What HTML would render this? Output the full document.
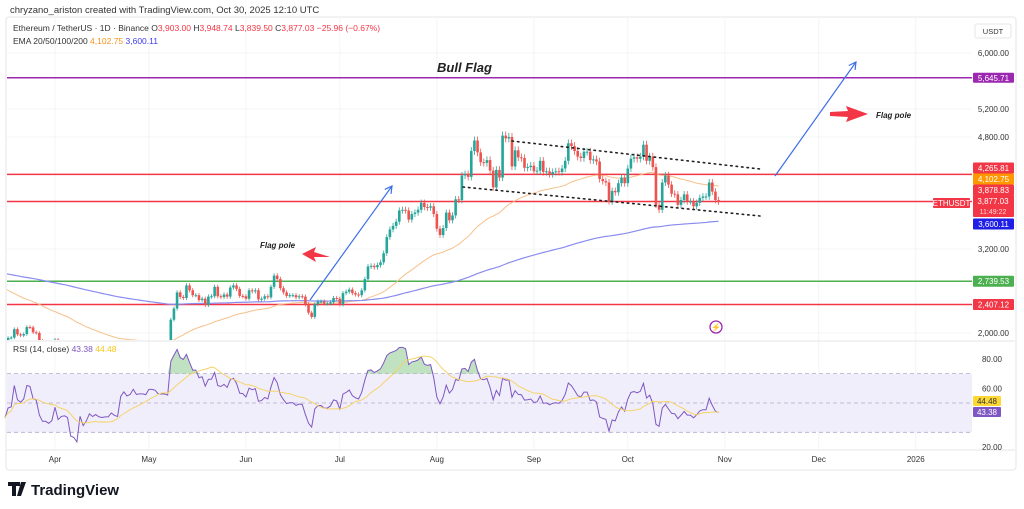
<!DOCTYPE html>
<html><head><meta charset="utf-8">
<style>
body{margin:0;background:#fff;width:1024px;height:509px;overflow:hidden;font-family:"Liberation Sans",sans-serif}
svg{position:absolute;left:0;top:0}
</style></head>
<body>
<svg id="c" width="1024" height="509" xmlns="http://www.w3.org/2000/svg">
<text x="10" y="13" font-size="9.5" fill="#333">chryzano_ariston created with TradingView.com, Oct 30, 2025 12:10 UTC</text>
<rect x="6" y="17" width="1010" height="453" fill="none" stroke="#e6e6e6" rx="3"/>
<g id="grid"></g>
<g id="bands"></g>
<g id="main"></g>
<g id="rsi"></g>
<g id="draw"></g>
<g id="axis"></g>
<text x="13" y="31" font-size="8.5" fill="#333">Ethereum / TetherUS · 1D · Binance <tspan fill="#333">O</tspan><tspan fill="#f23645">3,903.00</tspan> H<tspan fill="#f23645">3,948.74</tspan> L<tspan fill="#f23645">3,839.50</tspan> C<tspan fill="#f23645">3,877.03</tspan> <tspan fill="#f23645">−25.96 (−0.67%)</tspan></text>
<text x="13" y="44" font-size="8.5" fill="#333">EMA 20/50/100/200 <tspan fill="#f7931a">4,102.75</tspan> <tspan fill="#3c3cf0">3,600.11</tspan></text>
<text x="13" y="352" font-size="8.5" fill="#333">RSI (14, close) <tspan fill="#7e57c2">43.38</tspan> <tspan fill="#f5c518">44.48</tspan></text>
<g>
<path d="M8 482h12v4h-4v10h-4v-10h-4z M21 482h5l-5 14h-4z" fill="#131722"/>
<text x="31" y="495" font-size="15" font-weight="bold" fill="#131722">TradingView</text>
</g>
</svg>
<script>
const closes=[1910,1890,1930,1935,2055,1980,1965,1985,2085,2080,2010,2000,1890,1830,1830,1810,1825,
1905,1795,1815,1820,1805,1580,1555,1470,1670,1520,1565,1640,1600,1620,1590,1580,1585,1585,1615,1590,1580,1750,1800,1765,1780,1835,1795,1800,1800,1795,
1840,1840,1835,1815,1815,1815,1810,2190,2350,2580,2515,2500,2680,2610,2540,2540,2470,2490,2400,2520,2525,2660,2525,2515,2550,2520,2650,2680,2630,2530,2525,
2490,2610,2595,2610,2480,2490,2525,2510,2660,2820,2770,2640,2580,2530,2540,2540,2510,2525,2520,2410,2290,2230,2410,2450,2450,2420,2420,2440,2500,2490,
2410,2570,2590,2620,2570,2550,2540,2610,2770,2950,2960,2940,2970,3010,3140,3370,3480,3530,3590,3750,3760,3750,3620,3700,3720,3760,3860,3800,3790,3810,3700,
3490,3400,3500,3720,3610,3680,3910,3900,4250,4270,4230,4600,4750,4580,4440,4430,4470,4320,4080,4330,4220,4820,4780,4800,4380,4610,4510,4500,4360,4370,4390,
4310,4320,4460,4300,4310,4270,4300,4310,4300,4350,4460,4710,4670,4600,4520,4500,4590,4590,4470,4480,4450,4200,4170,4150,3880,4030,4010,4140,4220,4140,
4350,4490,4510,4490,4520,4690,4460,4520,4370,3830,3760,4150,4250,4120,3990,3980,3830,3900,3980,3880,3880,3810,3860,3930,3950,3950,4150,4020,3900,3877];
const firstDay=-17; // Mar 15 relative to Apr 1
const emaSeeds=[2700,2870]; // EMA50, EMA200 at start
const rsiSeed=[0.55,0.75]; // avg gain / avg loss % at start
const priceTicks=[6000,5200,4800,3200,2000];
const rsiTicks=[80,60,20];
const months=["Apr","May","Jun","Jul","Aug","Sep","Oct","Nov","Dec","2026"];
const monthDays=[0,30,61,91,122,153,183,214,244,275];
const levels=[5645.71,4265.81,3878.83,2739.53,2407.12];
const levelColors=["#9c27b0","#f23645","#f23645","#4caf50","#f23645"];

const NS="http://www.w3.org/2000/svg";
function el(t,a,p){const e=document.createElementNS(NS,t);for(const k in a)e.setAttribute(k,a[k]);document.getElementById(p).appendChild(e);return e;}
const X=d=>55+d*3.13, Y=p=>53+(6000-p)*0.07, RY=v=>447-(v-20)*1.467;
const R=972;
monthDays.forEach((d,i)=>{let g=el('line',{x1:X(d),x2:X(d),y1:17,y2:450,stroke:'#f3f4f6'},'grid');

let t=el('text',{x:X(d),y:462,'font-size':8,fill:'#333','text-anchor':'middle'},'axis');t.textContent=months[i];
});
priceTicks.forEach(p=>{let g=el('line',{x1:7,x2:R,y1:Y(p),y2:Y(p),stroke:'#f3f4f6'},'grid');

let t=el('text',{x:1009,y:Y(p)+3,'font-size':8,fill:'#333','text-anchor':'end'},'axis');t.textContent=p.toLocaleString('en-US',{minimumFractionDigits:2});
});
rsiTicks.forEach(v=>{let t=el('text',{x:1002,y:RY(v)+3,'font-size':8,fill:'#333','text-anchor':'end'},'axis');t.textContent=v.toFixed(2);
});
let sep=el('line',{x1:7,x2:1015,y1:341,y2:341,stroke:'#e6e6e6'},'grid');

let sep2=el('line',{x1:7,x2:1015,y1:450,y2:450,stroke:'#e6e6e6'},'grid');

const defs=el('defs',{},'main');
const cp=document.createElementNS(NS,'clipPath');cp.setAttribute('id','mc');defs.appendChild(cp);
const cr=document.createElementNS(NS,'rect');cr.setAttribute('x',7);cr.setAttribute('y',17);cr.setAttribute('width',R-7);cr.setAttribute('height',323);cp.appendChild(cr);
const mg=el('g',{'clip-path':'url(#mc)'},'main');mg.id='mg';
let e50=emaSeeds[0],e200=emaSeeds[1];const p50=[],p200=[];
closes.forEach((c,i)=>{e50+=(c-e50)*2/51;e200+=(c-e200)*2/201;const x=X(firstDay+i);p50.push(x+','+Y(e50));p200.push(x+','+Y(e200));});
let l1=el('polyline',{points:p50.join(' '),fill:'none',stroke:'#f7c08a','stroke-width':1},'mg');

let l2=el('polyline',{points:p200.join(' '),fill:'none',stroke:'#8a8cf0','stroke-width':1.2},'mg');

closes.forEach((c,i)=>{const o=i?closes[i-1]:c;const x=X(firstDay+i);const up=c>=o;const col=up?'#26a69a':'#ef5350';
const h=Math.max(o,c)*1.012,l=Math.min(o,c)*0.988;
let w=el('line',{x1:x,x2:x,y1:Y(h),y2:Y(l),stroke:col,'stroke-width':0.8},'mg');

const yt=Y(Math.max(o,c)),yb=Y(Math.min(o,c));
let b=el('rect',{x:x-1.3,y:yt,width:2.6,height:Math.max(1,yb-yt),fill:col},'mg');
});
levels.forEach((p,i)=>{let l=el('line',{x1:7,x2:R,y1:Y(p),y2:Y(p),stroke:levelColors[i],'stroke-width':1.5},'bands');
});
// RSI (Wilder) seeded from prior averages
const rsi=[];let ag=rsiSeed[0]*closes[0]/100,al=rsiSeed[1]*closes[0]/100;
for(let i=1;i<closes.length;i++){const d=closes[i]-closes[i-1];const g=Math.max(d,0),lo=Math.max(-d,0);
ag=(ag*13+g)/14;al=(al*13+lo)/14;rsi.push(100-100/(1+ag/(al||1e-9)));}
let band=el('rect',{x:7,y:RY(70),width:R-7,height:RY(30)-RY(70),fill:'#f1eefb'},'rsi');

[70,50,30].forEach(v=>{let l=el('line',{x1:7,x2:R,y1:RY(v),y2:RY(v),stroke:'#b2a8cc','stroke-dasharray':'4 3','stroke-width':0.8},'rsi');
});
const rp=rsi.map((v,i)=>X(firstDay+i+1)+','+RY(v));
let ma=[];rsi.forEach((v,i)=>{const s=rsi.slice(Math.max(0,i-13),i+1);ma.push(X(firstDay+i+1)+','+RY(s.reduce((a,b)=>a+b,0)/s.length));});
let ob='';rsi.forEach((v,i)=>{ob+=X(firstDay+i+1)+','+RY(Math.max(v,70))+' ';});
let of=el('polygon',{points:X(firstDay+1)+','+RY(70)+' '+ob+X(firstDay+rsi.length)+','+RY(70),fill:'#a5d6a7',opacity:0.7},'rsi');

let rl=el('polyline',{points:rp.join(' '),fill:'none',stroke:'#7e57c2','stroke-width':1},'rsi');

let ml=el('polyline',{points:ma.join(' '),fill:'none',stroke:'#f5d36a','stroke-width':1},'rsi');

function dl(x1,y1,x2,y2,name){let l=el('line',{x1,y1,x2,y2,stroke:'#222','stroke-width':1.6,'stroke-dasharray':'1.5 4','stroke-linecap':'round'},'draw');
}
dl(512,141,760,169,'flag-upper-trendline');dl(463,187,760,216,'flag-lower-trendline');
function arrow(x1,y1,x2,y2,name){const g=el('g',{},'draw');
const a=Math.atan2(y2-y1,x2-x1);const L=(s)=>document.createElementNS(NS,s);
const ln=L('line');[['x1',x1],['y1',y1],['x2',x2],['y2',y2],['stroke','#3d6ee8'],['stroke-width',1.2]].forEach(k=>ln.setAttribute(k[0],k[1]));g.appendChild(ln);
const hd=L('polyline');const p=[[x2-8*Math.cos(a-0.5),y2-8*Math.sin(a-0.5)],[x2,y2],[x2-8*Math.cos(a+0.5),y2-8*Math.sin(a+0.5)]];
hd.setAttribute('points',p.map(q=>q.join(',')).join(' '));hd.setAttribute('fill','none');hd.setAttribute('stroke','#3d6ee8');hd.setAttribute('stroke-width',1.2);g.appendChild(hd);}
arrow(310,300,392,186,'pole-arrow');arrow(775,176,856,62,'target-arrow');
function rarrow(pts,name){let p=el('polygon',{points:pts,fill:'#f23645'},'draw');}
rarrow('302,254 316,247 314,252 330,257 314,257 316,262','flag-pole-arrow-left');
rarrow('830,112 848,111 846,106 868,114 846,122 848,117 830,116','flag-pole-arrow-right');
function tx(x,y,s,t,name){let e=el('text',{x,y,'font-size':s,'font-style':'italic','font-weight':'bold',fill:'#222'},'draw');e.textContent=t;
}
tx(437,72,13,'Bull Flag','bull-flag-title');tx(260,248,8,'Flag pole','flag-pole-label-left');tx(876,118,8,'Flag pole','flag-pole-label-right');
let bolt=el('circle',{cx:716,cy:327,r:6,fill:'none',stroke:'#9c27b0','stroke-width':1.3},'draw');

let bt=el('text',{x:716,y:330,'font-size':8,fill:'#9c27b0','text-anchor':'middle'},'draw');bt.textContent='⚡';

function lab(x,y,w,h,bg,fg,t,name){const r=el('rect',{x,y:y-h/2,width:w,height:h,fill:bg,rx:1},'axis');

const e=el('text',{x:x+w/2,y:y+3,'font-size':8,fill:fg,'text-anchor':'middle'},'axis');e.textContent=t;
}
let ub=el('rect',{x:975,y:24,width:36,height:14,fill:'#fff',stroke:'#e6e6e6',rx:2},'axis');

let ut=el('text',{x:993,y:34,'font-size':7.5,fill:'#333','text-anchor':'middle'},'axis');ut.textContent='USDT';

lab(973,Y(5645.71),41,10,'#9c27b0','#fff','5,645.71','label-5645');
lab(973,168,41,11,'#f23645','#fff','4,265.81','label-4265');
lab(973,179,41,11,'#ff9800','#fff','4,102.75','label-ema50');
lab(973,190,41,11,'#f23645','#fff','3,878.83','label-3878');
lab(973,206,41,22,'#f23645','#fff','','label-last');
let t1=el('text',{x:993,y:204,'font-size':8,fill:'#fff','text-anchor':'middle'},'axis');t1.textContent='3,877.03';

let t2=el('text',{x:993,y:214,'font-size':7,fill:'#ffd6d6','text-anchor':'middle'},'axis');t2.textContent='11:49:22';

lab(973,224,41,11,'#1e1ee6','#fff','3,600.11','label-ema200');
lab(933,203,37,10,'#f23645','#fff','ETHUSDT','symbol-tag');
lab(973,Y(2739.53),41,11,'#4caf50','#fff','2,739.53','label-2739');
lab(973,Y(2407.12),41,11,'#f23645','#fff','2,407.12','label-2407');
lab(973,401,28,10,'#fdd835','#333','44.48','label-rsi-ma');
lab(973,412,28,10,'#7e57c2','#fff','43.38','label-rsi');
</script>
</body></html>
